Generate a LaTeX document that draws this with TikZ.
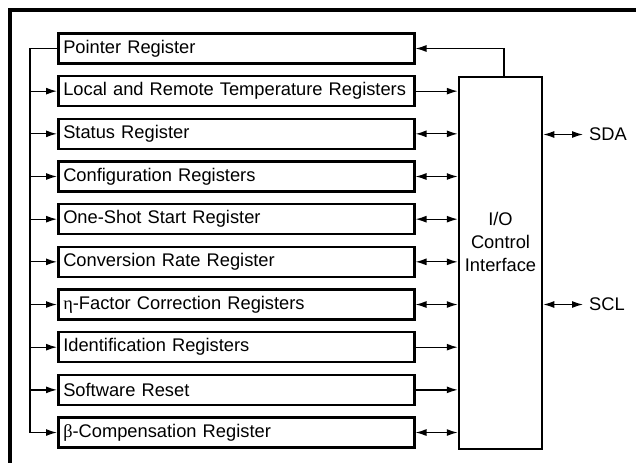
\documentclass[tikz,border=0pt]{standalone}
\usepackage{fontspec}
\setmainfont{Liberation Sans}
\newfontfamily\grk{Liberation Serif}
\usetikzlibrary{arrows.meta}

\tikzset{
  regbox/.style={draw, line width=2.5bp, anchor=west, minimum height=30bp,
    inner sep=5bp, text width=346bp, align=left},
  wire/.style={line width=1.3bp},
  txt/.style={font=\fontsize{18.3bp}{23bp}\selectfont},
}

\begin{document}
\begin{tikzpicture}[x=1bp, y=-1bp, >={Latex[length=11bp,width=7bp]}, every node/.style={txt}]

\useasboundingbox (0,0) rectangle (636,463);
\draw[line width=3.3bp] (10,10) rectangle (680,500);

% register column
\foreach \i/\regname in {0/Pointer Register,
  1/Local and Remote Temperature Registers,
  2/Status Register,
  3/Configuration Registers,
  4/One-Shot Start Register,
  5/Conversion Rate Register,
  6/{{\grk η}-Factor Correction Registers},
  7/Identification Registers,
  8/Software Reset,
  9/{{\grk β}-Compensation Register}}
{   \pgfmathsetmacro{\y}{48.5+42.67*\i}
	\node[regbox] (reg\i) at (57,\y) {\regname};
	\coordinate (bus\i) at (30,\y);
}

\node[draw, line width=2.5bp, minimum width=83bp, minimum height=372bp] (io) at (500.5,263) {};
\node[align=center] (iolabel) at (500.5,242) {I/O\\Control\\Interface};

% bus on the left
\draw[wire] (reg0.west) -- (bus0) -- (bus9);
\foreach \i in {1,...,9}
	\draw[wire,->] (bus\i) -- (reg\i.west);

% links to the interface
\draw[wire,->] ([xshift=3.5bp]io.north) |- (reg0.east);
\foreach \i/\link in {1/->,2/<->,3/<->,4/<->,5/<->,6/<->,7/->,8/->,9/<->}
	\draw[wire,\link] (reg\i.east) -- (reg\i.east -| io.west);

% serial pins
\node[anchor=west, inner sep=6bp] (sda) at (583,134.5) {SDA};
\node[anchor=west, inner sep=6bp] (scl) at (583,304.5) {SCL};
\draw[wire,<->] (io.east |- sda) -- (sda.west);
\draw[wire,<->] (io.east |- scl) -- (scl.west);

\end{tikzpicture}
\end{document}
